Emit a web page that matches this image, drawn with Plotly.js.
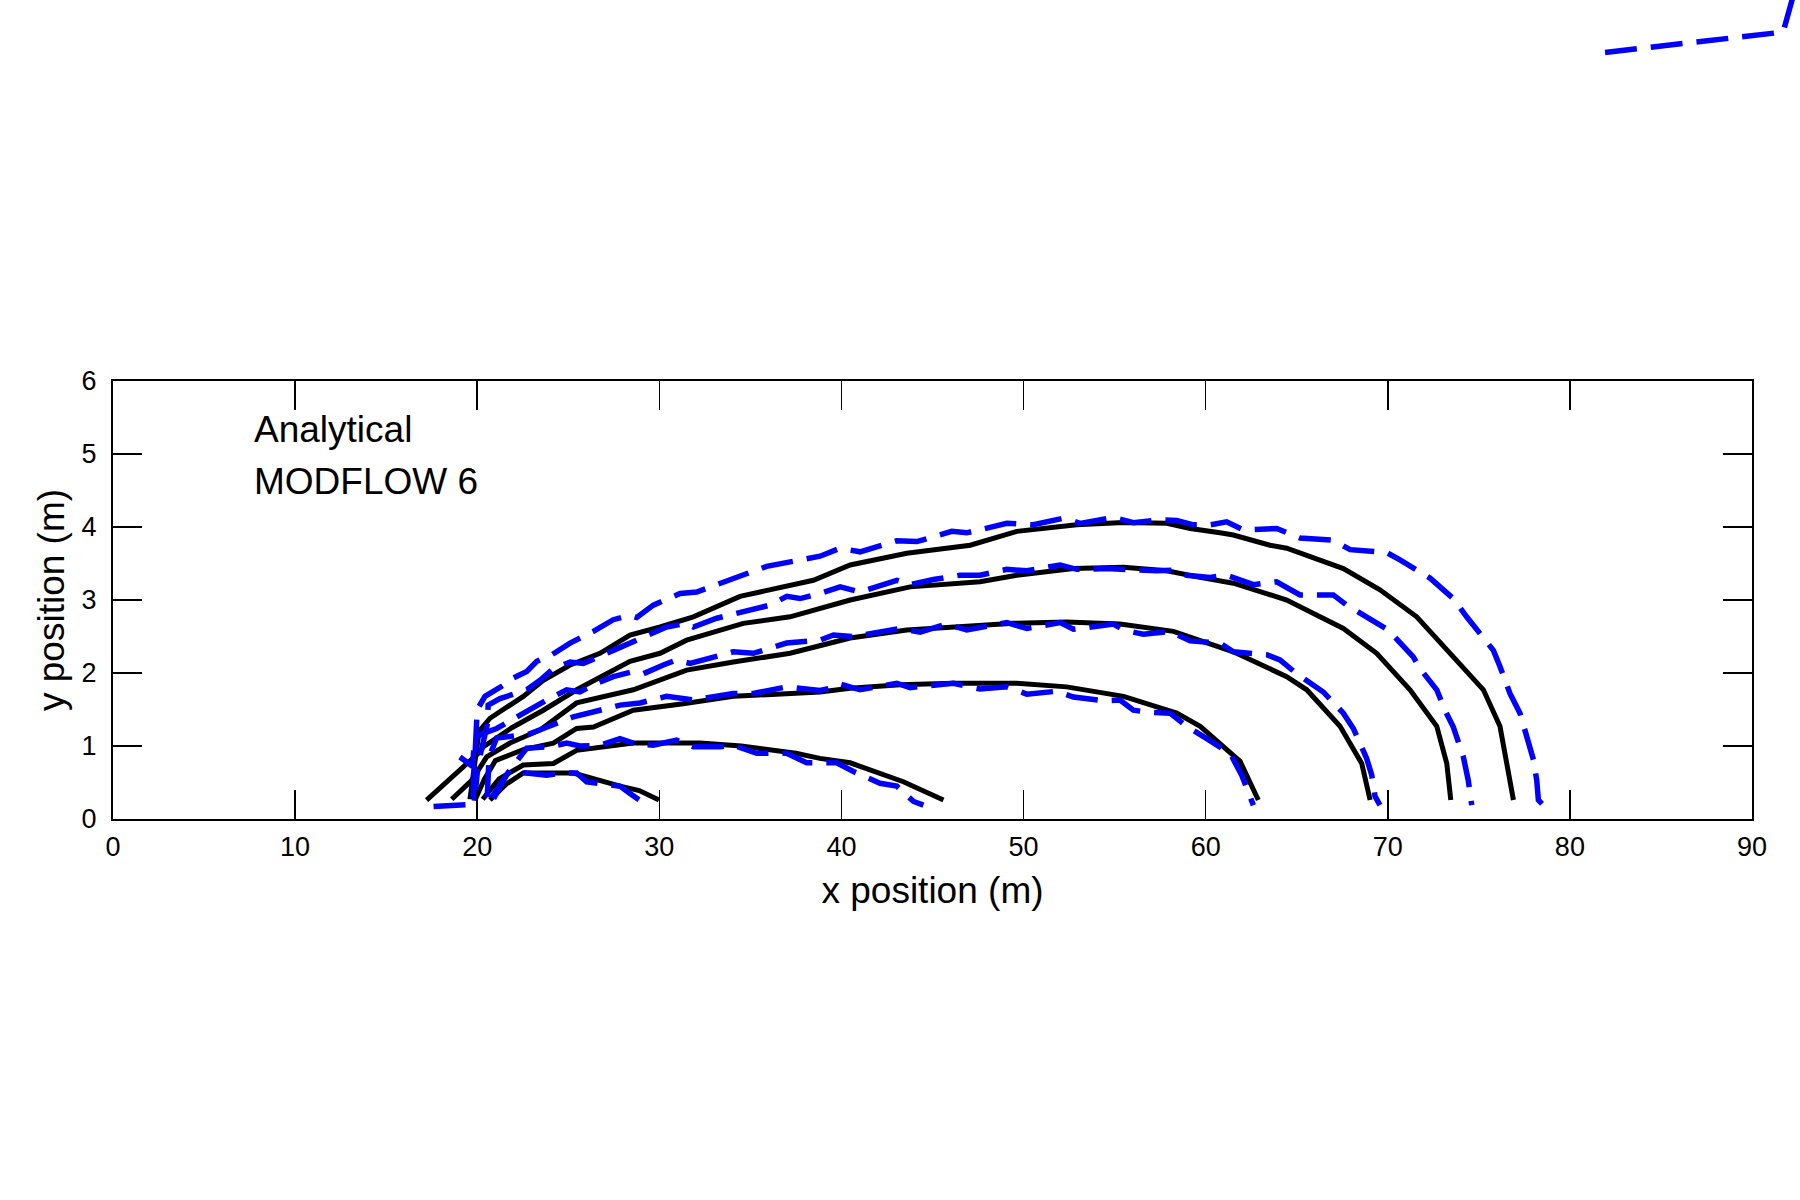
<!DOCTYPE html>
<html>
<head>
<meta charset="utf-8">
<script src="https://cdn.plot.ly/plotly-3.0.1.min.js"></script>
<style>
  html, body { margin: 0; padding: 0; background: #fff; }
  #chart { width: 1800px; height: 1200px; }
</style>
</head>
<body>
<div id="chart"></div>
<script>
// analytical pathlines, [x, y] in metres
const ana1 = [[20.7,0.26],[21.6,0.48],[22.53,0.63],[25.28,0.63],[27.84,0.45],[28.9,0.39],[29.98,0.26]];
const ana2 = [[20.3,0.27],[21.2,0.55],[22.53,0.74],[24.18,0.76],[25.46,0.94],[28.57,1.04],[32.23,1.04],
  [34.5,1.0],[37.5,0.9],[38.82,0.83],[40.48,0.77],[43.4,0.51],[45.6,0.26]];
const ana3 = [[19.9,0.27],[20.4,0.55],[21.0,0.8],[22.53,0.95],[24.18,1.04],[25.46,1.24],[26.38,1.26],
  [28.57,1.49],[31.32,1.58],[34.06,1.68],[38.82,1.74],[40.48,1.79],[43.22,1.84],[46.15,1.86],
  [49.63,1.86],[52.37,1.81],[55.49,1.68],[58.41,1.45],[59.7,1.27],[60.79,1.04],[61.89,0.79],[62.89,0.26]];
const ana4 = [[18.6,0.27],[19.7,0.53],[20.52,0.85],[21.8,1.04],[23.45,1.22],[25.46,1.59],[28.57,1.77],
  [31.5,2.04],[34.06,2.15],[37.18,2.27],[40.48,2.48],[43.59,2.59],[46.88,2.64],[49.45,2.68],
  [52.37,2.70],[55.3,2.67],[58.23,2.57],[60.1,2.42],[61.52,2.29],[64.45,1.95],[65.55,1.77],
  [67.38,1.27],[68.57,0.76],[69.03,0.26]];
const ana5 = [[17.22,0.26],[20.06,0.90],[20.34,0.99],[21.9,1.25],[23.63,1.49],[25.46,1.77],[28.39,2.16],
  [30.04,2.27],[31.5,2.45],[34.61,2.68],[37.18,2.77],[38.82,2.89],[40.48,3.00],[43.77,3.18],
  [47.61,3.25],[49.63,3.34],[52.74,3.43],[55.49,3.45],[57.87,3.40],[59.69,3.31],[61.52,3.23],
  [64.45,3.00],[67.56,2.61],[69.39,2.27],[71.22,1.77],[72.69,1.27],[73.24,0.76],[73.46,0.26]];
const ana6 = [[19.6,0.27],[19.9,0.9],[20.1,1.2],[20.7,1.38],[22.53,1.68],[23.63,1.90],[25.1,2.11],
  [26.74,2.27],[28.39,2.52],[30.04,2.63],[31.87,2.77],[34.43,3.05],[36.81,3.19],[38.46,3.27],
  [40.48,3.48],[43.59,3.64],[47.07,3.75],[49.63,3.94],[52.92,4.03],[55.49,4.06],[57.87,4.05],
  [59.15,3.98],[60.79,3.92],[61.52,3.89],[63.53,3.75],[64.45,3.71],[67.56,3.43],[69.57,3.14],
  [71.59,2.77],[73.24,2.32],[75.25,1.77],[76.16,1.27],[76.53,0.72],[76.9,0.26]];

// MODFLOW 6 pathlines
const mf1 = [[20.8,0.30],[21.3,0.50],[21.8,0.67],[22.72,0.63],[23.81,0.60],[24.73,0.63],[25.46,0.63],
  [26.01,0.51],[26.92,0.48],[27.84,0.45],[28.39,0.35],[28.94,0.24],[29.31,0.19]];
const mf2 = [[20.9,0.28],[21.6,0.60],[22.35,0.85],[22.72,0.97],[24.0,0.99],[24.91,1.04],[25.64,1.00],
  [26.74,1.01],[27.84,1.10],[28.57,1.04],[29.67,1.01],[30.95,1.08],[31.87,0.99],[33.33,0.99],
  [34.06,1.01],[35.35,0.90],[36.99,0.90],[38.09,0.77],[39.74,0.77],[40.66,0.65],[42.12,0.49],
  [43.04,0.45],[43.96,0.24],[44.5,0.19]];
const mf3 = [[20.55,0.30],[20.65,0.85],[21.07,1.11],[22.81,1.16],[23.63,1.24],[25.28,1.40],[26.74,1.49],
  [27.84,1.56],[28.94,1.59],[30.4,1.68],[31.87,1.63],[34.06,1.72],[35.16,1.72],[36.99,1.81],
  [38.82,1.76],[39.38,1.79],[39.93,1.85],[41.02,1.77],[43.04,1.86],[43.77,1.80],[46.15,1.86],
  [47.61,1.78],[49.08,1.81],[50.18,1.71],[51.82,1.75],[52.74,1.67],[54.39,1.62],[55.3,1.63],
  [56.03,1.49],[56.95,1.46],[58.05,1.45],[58.96,1.27],[60.06,1.10],[61.34,0.90],[61.98,0.60],[62.62,0.19]];
const mf4 = [[19.05,0.85],[19.75,0.72],[19.85,1.11],[20.3,1.17],[21.07,1.24],[22.35,1.42],[23.08,1.54],
  [23.81,1.63],[24.91,1.77],[25.64,1.74],[26.38,1.84],[27.47,1.95],[28.57,2.02],[29.12,1.99],
  [30.22,2.11],[30.95,2.18],[31.69,2.13],[34.06,2.29],[35.16,2.27],[36.99,2.41],[38.82,2.45],
  [39.56,2.52],[40.66,2.50],[42.12,2.57],[43.22,2.61],[44.32,2.56],[45.78,2.67],[46.88,2.59],
  [49.08,2.69],[50.18,2.61],[52.01,2.69],[52.74,2.60],[54.94,2.67],[55.49,2.59],[56.58,2.53],
  [58.05,2.57],[59.15,2.44],[60.79,2.41],[61.52,2.29],[63.35,2.25],[64.08,2.18],[65.0,1.99],
  [66.46,1.74],[67.56,1.45],[68.11,1.24],[68.84,0.83],[69.12,0.60],[69.3,0.31],[69.57,0.19]];
const mf5 = [[19.85,0.25],[20.05,0.75],[20.55,1.29],[20.6,1.56],[21.25,1.65],[22.72,1.77],[23.45,1.90],
  [24.18,2.06],[25.1,2.15],[25.83,2.13],[27.47,2.31],[28.94,2.47],[30.4,2.63],[31.5,2.68],
  [31.87,2.63],[33.15,2.75],[34.61,2.84],[36.08,2.93],[37.0,3.05],[37.73,3.02],[38.83,3.09],
  [39.93,3.18],[41.02,3.11],[43.04,3.27],[43.77,3.21],[45.05,3.28],[46.52,3.34],[47.61,3.34],
  [49.08,3.42],[50.18,3.40],[52.01,3.48],[52.92,3.42],[54.57,3.43],[56.03,3.41],[57.32,3.40],
  [58.23,3.41],[58.96,3.34],[60.24,3.31],[61.15,3.34],[62.62,3.21],[63.9,3.25],[65.18,3.07],
  [67.01,3.07],[67.74,2.93],[69.03,2.75],[70.03,2.59],[71.4,2.22],[71.77,2.06],[72.69,1.77],
  [73.14,1.49],[73.6,1.26],[74.15,0.85],[74.42,0.53],[74.52,0.26],[74.61,0.19]];
const mf6 = [[17.6,0.17],[19.75,0.20],[20.0,1.50],[20.43,1.68],[21.62,1.86],[21.8,1.91],[22.72,2.02],
  [23.27,2.16],[24.09,2.25],[25.1,2.41],[26.38,2.57],[27.47,2.73],[28.39,2.79],[28.76,2.76],
  [29.67,2.93],[31.14,3.09],[32.05,3.11],[34.06,3.30],[35.89,3.46],[37.36,3.53],[38.83,3.60],
  [39.93,3.71],[41.02,3.66],[43.04,3.81],[44.14,3.80],[46.06,3.94],[46.88,3.92],[49.08,4.05],
  [50.54,4.03],[52.19,4.12],[53.11,4.05],[54.94,4.13],[56.03,4.06],[57.5,4.10],[58.41,4.09],
  [59.33,4.03],[60.24,4.03],[61.15,4.07],[62.07,3.96],[63.9,3.98],[65.18,3.85],[67.01,3.82],
  [67.93,3.69],[69.94,3.65],[70.67,3.55],[72.32,3.30],[73.6,3.02],[74.33,2.77],[75.25,2.50],
  [75.8,2.31],[76.16,2.09],[76.71,1.72],[77.26,1.45],[77.72,1.08],[78.0,0.81],[78.18,0.53],
  [78.27,0.26],[78.54,0.19]];

// the stray MODFLOW 6 dash that sits outside the axes (top right of the figure)
const strayLine = [[81.93,10.50],[90.88,10.77],[91.71,10.78],[92.2,11.22],[92.5,11.9]];

const legendLabels = ["Analytical", "MODFLOW 6"];
const xTicks = [0, 10, 20, 30, 40, 50, 60, 70, 80, 90];
const yTicks = [0, 1, 2, 3, 4, 5, 6];

const W = 1800, H = 1200;
const xDom = [113 / W, 1752 / W];
const yDom = [(H - 819) / H, (H - 381) / H];
const xRange = [0, 90], yRange = [0, 6];

// full-figure axes with the same scale as the main axes
const xPer = (xRange[1] - xRange[0]) / (xDom[1] - xDom[0]);
const yPer = (yRange[1] - yRange[0]) / (yDom[1] - yDom[0]);
const x2Range = [xRange[0] - xDom[0] * xPer, xRange[0] + (1 - xDom[0]) * xPer];
const y2Range = [yRange[0] - yDom[0] * yPer, yRange[0] + (1 - yDom[0]) * yPer];

const font = "Liberation Sans, Arial, sans-serif";

const line = (pts, kind, ax) => ({
  x: pts.map((p) => p[0]),
  y: pts.map((p) => p[1]),
  type: "scatter",
  mode: "lines",
  xaxis: ax ? "x2" : "x",
  yaxis: ax ? "y2" : "y",
  hoverinfo: "none",
  showlegend: false,
  line: kind === "ana"
    ? { color: "black", width: 5 }
    : { color: "#0000ff", width: 5.5, dash: "32px,14px" },
});

let data = [];
[ana1, ana2, ana3, ana4, ana5, ana6].forEach((c) => data.push(line(c, "ana")));
[mf1, mf2, mf3, mf4, mf5, mf6].forEach((c) => data.push(line(c, "mf6")));
data.push(line(strayLine, "mf6", true));

const axisCommon = {
  showgrid: false,
  zeroline: false,
  showline: true,
  linecolor: "black",
  linewidth: 2,
  mirror: "ticks",
  ticks: "inside",
  ticklen: 29,
  tickwidth: 1.6,
  tickcolor: "black",
  tickfont: { family: font, size: 27, color: "black" },
};

let layout = {
  width: W,
  height: H,
  margin: { l: 0, r: 0, t: 0, b: 0 },
  paper_bgcolor: "white",
  plot_bgcolor: "rgba(0,0,0,0)",
  showlegend: false,
  xaxis: Object.assign({}, axisCommon, {
    domain: xDom,
    range: xRange,
    tickvals: xTicks,
    anchor: "y",
    ticklabelstandoff: 3,
    title: { text: "x position (m)", font: { family: font, size: 37, color: "black" }, standoff: 16 },
  }),
  yaxis: Object.assign({}, axisCommon, {
    domain: yDom,
    range: yRange,
    tickvals: yTicks,
    anchor: "x",
    ticklabelstandoff: 9,
    title: { text: "y position (m)", font: { family: font, size: 37, color: "black" }, standoff: 6 },
  }),
  xaxis2: { domain: [0, 1], range: x2Range, visible: false, anchor: "y2", fixedrange: true },
  yaxis2: { domain: [0, 1], range: y2Range, visible: false, anchor: "x2", fixedrange: true },
  annotations: legendLabels.map((t, i) => ({
    text: t,
    xref: "x",
    yref: "y",
    x: 7.62,
    y: i === 0 ? 5.33 : 4.62,
    xanchor: "left",
    yanchor: "middle",
    showarrow: false,
    font: { family: font, size: 37, color: "black" },
  })),
};

var config = { staticPlot: true };

Plotly.newPlot("chart", data, layout, config);
</script>
</body>
</html>
